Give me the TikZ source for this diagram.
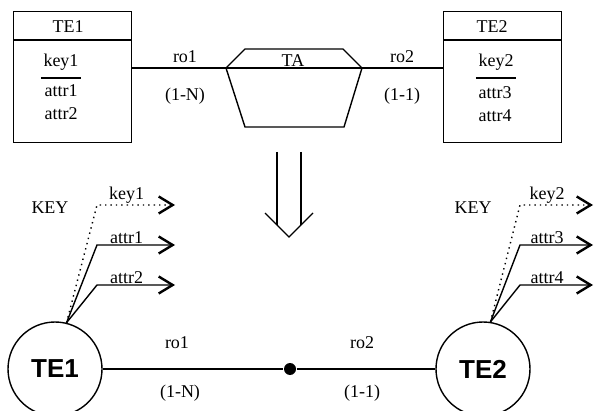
\documentclass[tikz,border=0pt]{standalone}
\usepackage{fontspec}
\setmainfont{Liberation Serif}
\setsansfont{Liberation Sans}
\usetikzlibrary{arrows.meta}
\begin{document}
\begin{tikzpicture}[x=0.5pt, y=-0.5pt, line width=0.7pt,
  every node/.style={font=\fontsize{9}{10}\selectfont, inner sep=1pt},
  entbox/.style={draw, anchor=north west, minimum width=59pt, minimum height=65.5pt, inner sep=0pt},
  entcirc/.style={draw, circle, minimum size=47pt, inner sep=0pt, font=\sffamily\bfseries\fontsize{13}{15}\selectfont},
  chev/.style={-{Straight Barb[length=7pt, width=8.5pt, line width=1.2pt]}}]
\useasboundingbox (0,0) rectangle (594,411);
% entity boxes
\node[entbox] (te1) at (13,11) {};
\node[entbox] (te2) at (443,11) {};
\draw (te1.north west) ++(0,29) -- ++(118,0);
\draw (te2.north west) ++(0,29) -- ++(118,0);
\node (h1) at (68,27) {TE1};
\node (h2) at (492,27) {TE2};
\node (k1) at (61,62) {key1};
\node (k2) at (496,62) {key2};
\draw ([yshift=-2.5pt]k1.south west) -- ([yshift=-2.5pt]k1.south east);
\draw ([yshift=-2.5pt]k2.south west) -- ([yshift=-2.5pt]k2.south east);
\node (a1) at (61,91) {attr1};
\node (a2) at (61,114) {attr2};
\node (a3) at (495,93) {attr3};
\node (a4) at (495,116) {attr4};
% relationship TA
\coordinate (tal) at (226,68);
\coordinate (tar) at (362,68);
\draw (te1.east |- tal) -- (tal) -- (tar) -- (te2.west |- tar);
\draw (tal) -- (245,49) -- (343,49) -- (tar) -- (344,127) -- (245,127) -- cycle;
\node (ta) at (293,61) {TA};
\node (r1) at (185,57) {ro1};
\node (n1) at (185,96) {(1-N)};
\node (r2) at (402,57) {ro2};
\node (n2) at (402,96) {(1-1)};
% transformation arrow
\draw (277,152) -- (277,225);
\draw (301,152) -- (301,225);
\draw (265,213) -- (289,237) -- (313,213);
% graph form
\node[entcirc] (c1) at (55,369) {TE1};
\node[entcirc] (c2) at (483,369) {TE2};
\node[circle, fill, inner sep=0pt, minimum size=6pt] (dot) at (290,369) {};
\draw (c1) -- (dot) -- (c2);
\node (br1) at (177,343) {ro1};
\node (bn1) at (180,393) {(1-N)};
\node (br2) at (362,343) {ro2};
\node (bn2) at (362,393) {(1-1)};
\node (key1) at (50,208) {KEY};
\node (key2) at (473,208) {KEY};
\foreach \nm/\yy/\stl in {key1/205/dotted, attr1/245/solid, attr2/285/solid}
  \draw[\stl, chev] (c1.76) -- (97,\yy) -- (175,\yy) node[pos=0.38, above, inner sep=0.3pt] {\nm};
\foreach \nm/\yy/\stl in {key2/205/dotted, attr3/245/solid, attr4/285/solid}
  \draw[\stl, chev] (c2.81) -- (520,\yy) -- (593,\yy) node[pos=0.37, above, inner sep=0.3pt] {\nm};
\end{tikzpicture}
\end{document}
